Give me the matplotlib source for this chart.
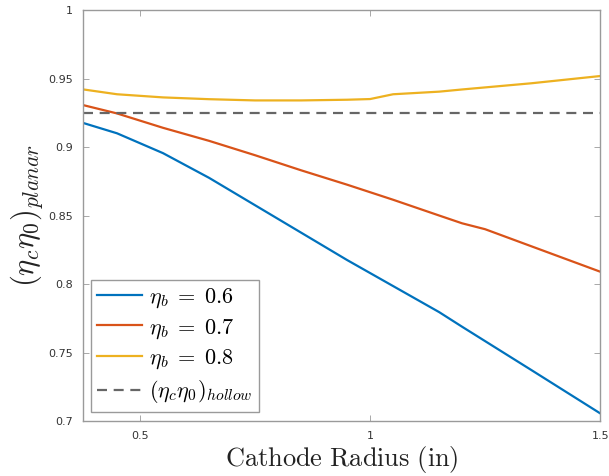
import matplotlib
matplotlib.use("Agg")
import matplotlib.pyplot as plt

plt.rcParams['mathtext.fontset'] = 'cm'

# Cathode radius samples (in)
radius = [0.375, 0.45, 0.55, 0.65, 0.75, 0.85, 0.95, 1.0, 1.05, 1.15, 1.2, 1.25, 1.35, 1.5]

# Planar efficiency product for each beam efficiency
eta_06 = [0.9177, 0.9100, 0.8955, 0.8775, 0.8575, 0.8375, 0.8175, 0.8080, 0.7985,
          0.7795, 0.7688, 0.7583, 0.7373, 0.7056]
eta_07 = [0.9307, 0.9245, 0.9140, 0.9045, 0.8940, 0.8830, 0.8725, 0.8670, 0.8615,
          0.8500, 0.8443, 0.8400, 0.8276, 0.8090]
eta_08 = [0.9421, 0.9385, 0.9362, 0.9349, 0.9340, 0.9340, 0.9345, 0.9350, 0.9385,
          0.9404, 0.9420, 0.9435, 0.9465, 0.9518]
hollow = 0.925

series_labels = [r'$\eta_b\;=\;0.6$', r'$\eta_b\;=\;0.7$', r'$\eta_b\;=\;0.8$']
hollow_label = r'$(\eta_c\eta_0)_{hollow}$'
colors = ['#0072BD', '#D95319', '#EDB120']

x_ticks = [0.5, 1, 1.5]
x_ticklabels = ['0.5', '1', '1.5']
y_ticks = [0.7, 0.75, 0.8, 0.85, 0.9, 0.95, 1.0]
y_ticklabels = ['0.7', '0.75', '0.8', '0.85', '0.9', '0.95', '1']

fig = plt.figure(figsize=(6.09, 4.76), dpi=100)
ax = fig.add_axes([0.1355, 0.1155, 0.85, 0.8635])

for ys, lab, c in zip([eta_06, eta_07, eta_08], series_labels, colors):
    ax.plot(radius, ys, color=c, lw=1.6, label=lab)
ax.plot([0.375, 1.5], [hollow, hollow], color='#666666', lw=1.6,
        linestyle=(0, (4.5, 3.0)), label=hollow_label)

ax.set_xlim(0.375, 1.5)
ax.set_ylim(0.7, 1.0)
ax.set_xticks(x_ticks)
ax.set_xticklabels(x_ticklabels)
ax.set_yticks(y_ticks)
ax.set_yticklabels(y_ticklabels)
ax.tick_params(direction='in', length=4, width=0.6, colors='#9a9a9a',
               labelcolor='#333333', labelsize=8, top=True, right=True, pad=7)
for sp in ax.spines.values():
    sp.set_color('#9a9a9a')
    sp.set_linewidth(1.0)

ax.set_xlabel(r'$\mathrm{Cathode\ Radius\ (in)}$', fontsize=19, color='#222222', labelpad=2)
ax.set_ylabel(r'$(\eta_c\eta_0)_{planar}$', fontsize=22, color='#222222', labelpad=2)

leg = ax.legend(loc='lower left', bbox_to_anchor=(0.016, 0.022), fontsize=16,
                fancybox=False, framealpha=1, edgecolor='#9a9a9a',
                handlelength=2.0, handletextpad=0.3, labelspacing=0.32,
                borderpad=0.3, borderaxespad=0)
leg.get_frame().set_linewidth(1.0)

fig.savefig('out.png', dpi=100)
